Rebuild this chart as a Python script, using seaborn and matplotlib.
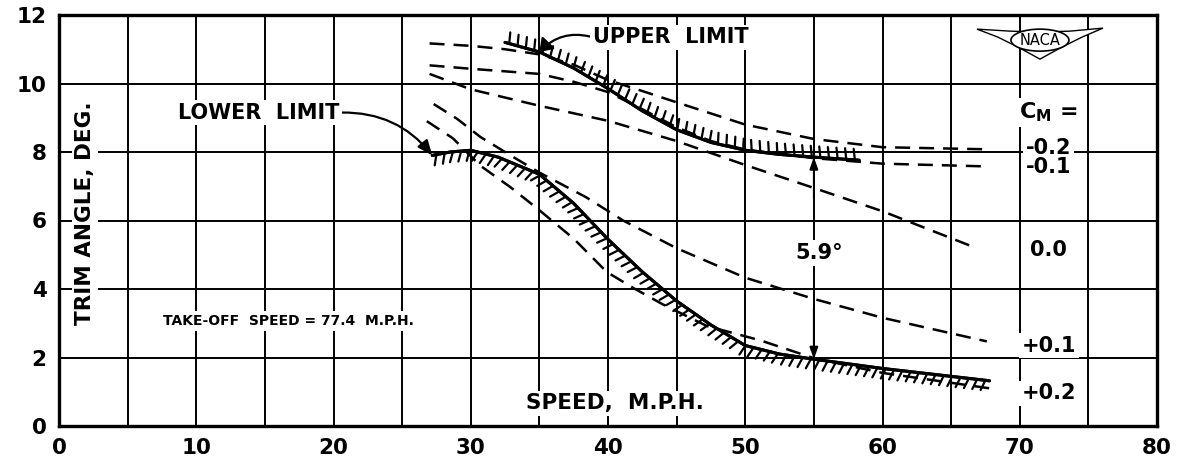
import matplotlib
matplotlib.use("Agg")
import matplotlib.pyplot as plt
import matplotlib.patheffects as pe
import matplotlib.transforms as mtransforms
from matplotlib.patches import Polygon, Ellipse
import seaborn as sns

# Porpoising limits: trim angle (deg) against speed (m.p.h.)
upper_speed = [32.5, 35.0, 37.5, 40.0, 42.5, 45.0, 47.5, 50.0, 52.5, 55.0, 58.3]
upper_trim = [11.2, 10.92, 10.45, 9.85, 9.2, 8.65, 8.28, 8.05, 7.93, 7.85, 7.76]

lower_speed = [27.2, 28.5, 30.0, 32.0, 35.0, 37.5, 40.0, 42.5, 45.0, 47.5, 50.0, 52.5, 55.0, 60.0, 67.8]
lower_trim = [7.9, 8.0, 8.05, 7.85, 7.35, 6.5, 5.45, 4.5, 3.65, 2.95, 2.35, 2.1, 1.95, 1.68, 1.32]

# Free-to-trim curves for constant moment coefficient C_M
cm_labels = ["-0.2", "-0.1", "0.0", "+0.1", "+0.2"]
cm_label_trim = [8.12, 7.55, 5.15, 2.35, 0.95]

cm_m02_speed = [27.0, 30.0, 32.5, 35.0, 37.5, 40.0, 42.5, 45.0, 50.0, 55.0, 60.0, 67.5]
cm_m02_trim = [11.17, 11.1, 11.0, 10.85, 10.55, 10.1, 9.78, 9.45, 8.8, 8.38, 8.14, 8.08]

cm_m01_speed = [27.0, 30.0, 35.0, 37.5, 40.0, 42.5, 45.0, 47.5, 50.0, 55.0, 60.0, 67.5]
cm_m01_trim = [10.53, 10.43, 10.28, 10.05, 9.75, 9.25, 8.72, 8.32, 8.07, 7.82, 7.66, 7.58]

cm_0_speed = [27.0, 30.0, 35.0, 40.0, 45.0, 50.0, 55.0, 60.0, 66.8]
cm_0_trim = [10.28, 9.83, 9.35, 8.91, 8.32, 7.62, 6.95, 6.27, 5.2]

cm_p01_speed = [27.3, 29.0, 30.7, 32.9, 35.0, 38.4, 41.1, 45.0, 50.0, 55.0, 60.0, 67.6]
cm_p01_trim = [9.4, 8.97, 8.44, 7.9, 7.4, 6.68, 6.0, 5.19, 4.33, 3.71, 3.16, 2.47]

cm_p02_speed = [26.8, 28.7, 30.7, 32.9, 35.0, 37.5, 39.9, 41.8, 44.0, 47.2, 51.1, 55.0, 60.0, 67.8]
cm_p02_trim = [8.9, 8.4, 7.6, 6.97, 6.3, 5.47, 4.5, 4.04, 3.55, 2.92, 2.5, 1.98, 1.55, 1.1]

x_ticks = [0, 10, 20, 30, 40, 50, 60, 70, 80]
y_ticks = [0, 2, 4, 6, 8, 10, 12]
takeoff_speed = 77.4
gap_speed = 55.0

sns.set_style("white")
plt.rcParams["font.family"] = ["DejaVu Sans"]
plt.rcParams["text.color"] = "black"
plt.rcParams["font.weight"] = "bold"

fig = plt.figure(figsize=(11.78, 4.58), dpi=100)
ax = fig.add_axes([59 / 1178, 32 / 458, 1098 / 1178, 411 / 458])

ax.set_xlim(0, 80)
ax.set_ylim(0, 12)
ax.set_xticks(x_ticks)
ax.set_xticks([t + 5 for t in x_ticks[:-1]], minor=True)
ax.set_yticks(y_ticks)
ax.set_xticklabels([str(t) for t in x_ticks], fontweight="bold")
ax.set_yticklabels([str(t) for t in y_ticks], fontweight="bold")
ax.tick_params(which="both", length=0, pad=9, labelsize=15.5, colors="black")
ax.grid(True, which="both", color="black", lw=1.4)
ax.set_axisbelow(True)
for s in ax.spines.values():
    s.set_color("black")
    s.set_linewidth(2.4)
ax.set_xlabel("")
ax.set_ylabel("")

dash = (0, (6, 3.6))
for sp, tr in [(cm_m02_speed, cm_m02_trim), (cm_m01_speed, cm_m01_trim),
               (cm_0_speed, cm_0_trim), (cm_p01_speed, cm_p01_trim),
               (cm_p02_speed, cm_p02_trim)]:
    sns.lineplot(x=sp, y=tr, ax=ax, color="black", lw=1.8, linestyle=dash,
                 sort=False, estimator=None, zorder=4)

sns.lineplot(x=upper_speed, y=upper_trim, ax=ax, color="black", lw=2.2,
             sort=False, estimator=None, zorder=5,
             path_effects=[pe.withTickedStroke(angle=100, spacing=6.2, length=1.3, linewidth=1.6),
                           pe.Normal()])
sns.lineplot(x=lower_speed, y=lower_trim, ax=ax, color="black", lw=2.2,
             sort=False, estimator=None, zorder=5,
             path_effects=[pe.withTickedStroke(angle=-110, spacing=6.0, length=1.3, linewidth=1.6),
                           pe.Normal()])

white = dict(facecolor="white", edgecolor="none", pad=2)

# Limit labels with leaders
ax.annotate("LOWER  LIMIT", xy=(lower_speed[0], lower_trim[0]), xytext=(20.4, 9.15),
            ha="right", va="center", fontsize=15, bbox=white, zorder=6,
            arrowprops=dict(arrowstyle="-|>,head_length=0.6,head_width=0.25", color="black",
                            lw=1.6, connectionstyle="arc3,rad=-0.25", relpos=(1, 0.5),
                            shrinkA=0, shrinkB=0))
ax.annotate("UPPER  LIMIT", xy=(upper_speed[1], upper_trim[1]), xytext=(38.9, 11.35),
            ha="left", va="center", fontsize=15, bbox=white, zorder=6,
            arrowprops=dict(arrowstyle="-|>,head_length=0.5,head_width=0.35", color="black",
                            lw=1.6, connectionstyle="arc3,rad=0.3", relpos=(0, 0.5),
                            shrinkA=0, shrinkB=0))

# Trim range between the limits at one speed
up_at = upper_trim[upper_speed.index(gap_speed)]
lo_at = lower_trim[lower_speed.index(gap_speed)]
arrow_kw = dict(arrowstyle="-|>,head_length=0.7,head_width=0.25", color="black", lw=1.4,
                shrinkA=0, shrinkB=0)
ax.annotate("", xy=(gap_speed, up_at), xytext=(gap_speed, up_at - 1.2), arrowprops=arrow_kw, zorder=6)
ax.annotate("", xy=(gap_speed, lo_at), xytext=(gap_speed, lo_at + 1.5), arrowprops=arrow_kw, zorder=6)
ax.text(gap_speed + 0.4, 5.05, f"{up_at - lo_at:.1f}°", ha="center", va="center",
        fontsize=15, bbox=white, zorder=6)

ax.text(7.6, 3.07, f"TAKE-OFF  SPEED = {takeoff_speed}  M.P.H.", ha="left", va="center",
        fontsize=10, fontweight="bold", bbox=white, zorder=6)
ax.text(40.5, 0.66, "SPEED,  M.P.H.", ha="center", va="center", fontsize=15.5,
        bbox=white, zorder=6)
ax.text(1.9, 6.2, "TRIM ANGLE, DEG.", ha="center", va="center", rotation=90,
        fontsize=15.5, bbox=white, zorder=6)

# Moment coefficient labels
ax.text(72.1, 9.15, r"C$_\mathregular{M}$ =", ha="center", va="center", fontsize=16,
        bbox=white, zorder=6)
for lab, yv in zip(cm_labels, cm_label_trim):
    ax.text(72.1, yv, lab, ha="center", va="center", fontsize=15, bbox=white, zorder=6)

# NACA wing emblem (shape in inches, anchored in axes fraction)
trans = fig.dpi_scale_trans + mtransforms.ScaledTranslation(0.8934, 0.934, ax.transAxes)
wing = [(-0.63, 0.13), (-0.3, 0.11), (0.0, 0.10), (0.3, 0.11), (0.63, 0.14),
        (0.42, 0.05), (0.2, -0.06), (0.0, -0.17), (-0.2, -0.06), (-0.42, 0.05)]
ax.add_patch(Polygon(wing, closed=True, transform=trans, facecolor="white",
                     edgecolor="black", lw=1.0, zorder=6, clip_on=False))
ax.add_patch(Ellipse((0.0, 0.02), 0.58, 0.22, transform=trans, facecolor="white",
                     edgecolor="black", lw=1.2, zorder=7, clip_on=False))
ax.text(0.0, 0.02, "NACA", transform=trans, ha="center", va="center", fontsize=10.5,
        fontweight="normal", zorder=8)

fig.savefig("out.png", dpi=100)
